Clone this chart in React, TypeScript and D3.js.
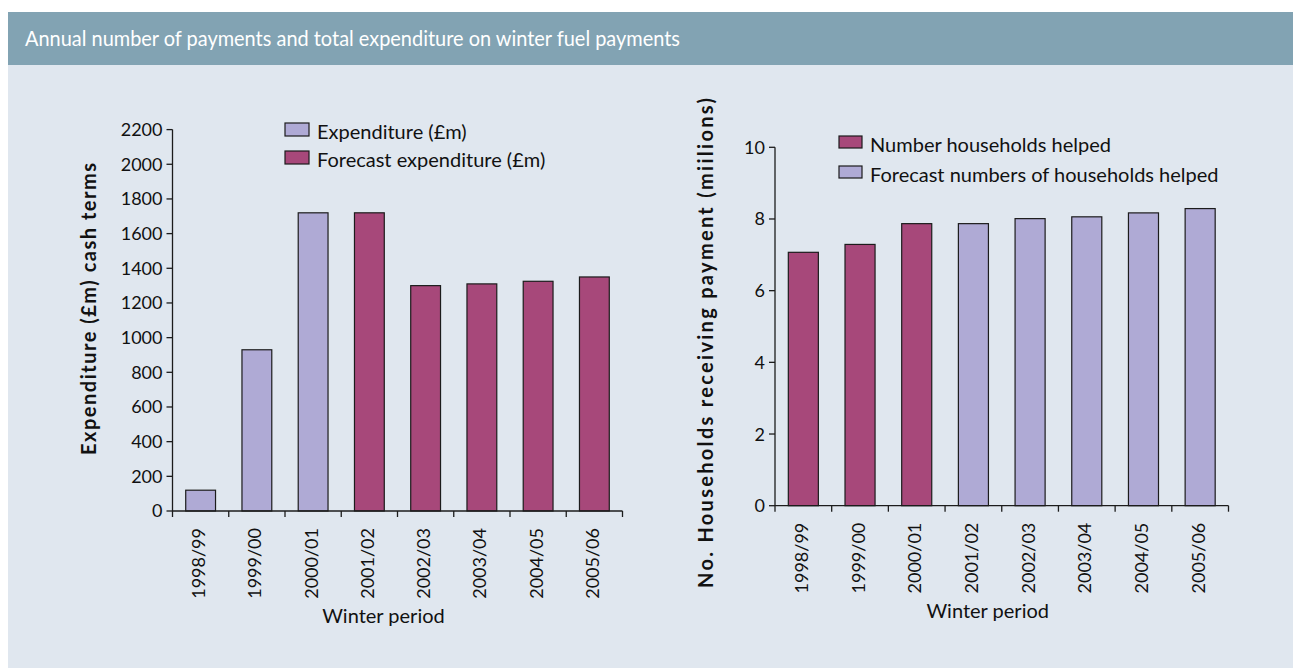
import React from "react";
import * as d3 from "d3";

const periods = ["1998/99", "1999/00", "2000/01", "2001/02", "2002/03", "2003/04", "2004/05", "2005/06"];
const expenditure = [120, 930, 1720, 1720, 1300, 1310, 1325, 1350];
const expenditureForecast = [false, false, false, true, true, true, true, true];
const households = [7.07, 7.29, 7.87, 7.87, 8.01, 8.06, 8.17, 8.29];
const householdsForecast = [false, false, false, true, true, true, true, true];
const leftTicks = [0, 200, 400, 600, 800, 1000, 1200, 1400, 1600, 1800, 2000, 2200];
const rightTicks = [0, 2, 4, 6, 8, 10];
const leftLegend = ["Expenditure (£m)", "Forecast expenditure (£m)"];
const rightLegend = ["Number households helped", "Forecast numbers of households helped"];
const title = "Annual number of payments and total expenditure on winter fuel payments";

const LAV = "#AFAAD5";
const MAG = "#A7487A";
const INK = "#1c1c1c";
const FONT = "Lato, 'Open Sans', sans-serif";

type PanelProps = {
  values: number[];
  forecast: boolean[];
  forecastColor: string;
  actualColor: string;
  ticks: number[];
  yMax: number;
  x0: number;
  x1: number;
  yBottom: number;
  yTop: number;
  yTitle: string;
  yTitleX: number;
  yTitleY: number;
  yTitleLen: number;
  legend: string[];
  legendColors: string[];
  legendX: number;
  legendY: number[];
  swatchW: number;
  swatchH: number;
};

function Panel(p: PanelProps) {
  const x = d3.scaleBand<string>().domain(periods).range([p.x0, p.x1]).paddingInner(0.47).paddingOuter(0.235);
  const y = d3.scaleLinear().domain([0, p.yMax]).range([p.yBottom, p.yTop]);
  const step = x.step();
  const boundaries = d3.range(periods.length + 1).map((i) => p.x0 + i * step);
  return (
    <g>
      {periods.map((c, i) => (
        <rect
          key={c}
          x={x(c)}
          y={y(p.values[i])}
          width={x.bandwidth()}
          height={y(0) - y(p.values[i])}
          fill={p.forecast[i] ? p.forecastColor : p.actualColor}
          stroke={INK}
          strokeWidth={1.2}
        />
      ))}
      <line x1={p.x0} x2={p.x0} y1={y(p.yMax)} y2={y(0)} stroke={INK} strokeWidth={1.3} />
      {p.ticks.map((t) => (
        <g key={t}>
          <line x1={p.x0 - 6} x2={p.x0} y1={y(t)} y2={y(t)} stroke={INK} strokeWidth={1.3} />
          <text x={p.x0 - 10} y={y(t)} dy="0.36em" textAnchor="end" fontSize={18} fill="#111" fontFamily={FONT}>
            {t}
          </text>
        </g>
      ))}
      <line x1={p.x0} x2={p.x1} y1={y(0)} y2={y(0)} stroke={INK} strokeWidth={1.3} />
      {boundaries.map((bx, i) => (
        <line key={i} x1={bx} x2={bx} y1={y(0)} y2={y(0) + 6} stroke={INK} strokeWidth={1.3} />
      ))}
      {periods.map((c) => {
        const cx = (x(c) as number) + x.bandwidth() / 2 - 2;
        const ty = y(0) + 17;
        return (
          <text
            key={c}
            transform={`translate(${cx},${ty}) rotate(-90)`}
            dy="0.36em"
            textAnchor="end"
            fontSize={18}
            fill="#111"
            fontFamily={FONT}
          >
            {c}
          </text>
        );
      })}
      <text x={(p.x0 + p.x1) / 2 - 14} y={y(0) + 112} textAnchor="middle" fontSize={20} fill="#111" fontFamily={FONT}>
        Winter period
      </text>
      <text
        transform={`translate(${p.yTitleX},${p.yTitleY}) rotate(-90)`}
        textAnchor="middle"
        fontSize={20}
        fontWeight="bold"
        fill="#111"
        fontFamily={FONT}
        textLength={p.yTitleLen}
        lengthAdjust="spacing"
      >
        {p.yTitle}
      </text>
      {p.legend.map((l, i) => (
        <g key={l}>
          <rect
            x={p.legendX}
            y={p.legendY[i] - 16}
            width={p.swatchW}
            height={p.swatchH}
            fill={p.legendColors[i]}
            stroke={INK}
            strokeWidth={1.2}
          />
          <text x={p.legendX + p.swatchW + 8} y={p.legendY[i]} fontSize={20} fill="#111" fontFamily={FONT}>
            {l}
          </text>
        </g>
      ))}
    </g>
  );
}

export default function App() {
  return (
    <svg width={1293} height={668} style={{ position: "absolute", left: 0, top: 0 }}>
      <rect x={0} y={0} width={1293} height={668} fill="#ffffff" />
      <rect x={8} y={12} width={1285} height={53} fill="#82A3B3" />
      <rect x={8} y={65} width={1285} height={603} fill="#E0E7EF" />
      <text x={25} y={46} fontSize={22} fill="#ffffff" fontFamily={FONT} textLength={655} lengthAdjust="spacingAndGlyphs">
        {title}
      </text>
      <Panel
        values={expenditure}
        forecast={expenditureForecast}
        forecastColor={MAG}
        actualColor={LAV}
        ticks={leftTicks}
        yMax={2200}
        x0={172.5}
        x1={622.5}
        yBottom={511}
        yTop={129.6}
        yTitle="Expenditure (£m) cash terms"
        yTitleX={96}
        yTitleY={309}
        yTitleLen={292}
        legend={leftLegend}
        legendColors={[LAV, MAG]}
        legendX={285}
        legendY={[139, 167]}
        swatchW={24}
        swatchH={13}
      />
      <Panel
        values={households}
        forecast={householdsForecast}
        forecastColor={LAV}
        actualColor={MAG}
        ticks={rightTicks}
        yMax={10}
        x0={775}
        x1={1228.5}
        yBottom={505.7}
        yTop={147.3}
        yTitle="No. Households receiving payment  (miilions)"
        yTitleX={713}
        yTitleY={343}
        yTitleLen={490}
        legend={rightLegend}
        legendColors={[MAG, LAV]}
        legendX={839}
        legendY={[152, 182]}
        swatchW={23}
        swatchH={12}
      />
    </svg>
  );
}
